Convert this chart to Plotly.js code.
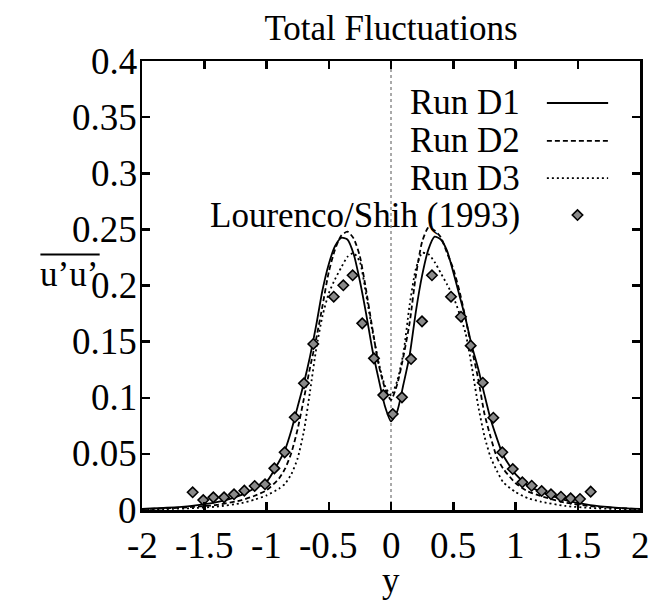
<!DOCTYPE html>
<html>
<head>
<meta charset="utf-8">
<script src="https://cdn.plot.ly/plotly-3.0.1.min.js"></script>
<style>html,body{margin:0;padding:0;background:#fff;}#chart{width:663px;height:600px;}</style>
</head>
<body>
<div id="chart"></div>
<script>
// ---- data ----
const xGrid = [-2,-1.8,-1.6,-1.4,-1.2,-1.1,-1,-0.9,-0.85,-0.8,-0.75,-0.7,-0.65,-0.6,-0.55,-0.5,-0.45,-0.4,-0.35,-0.3,-0.25,-0.2,-0.15,-0.1,-0.05,
  0,
  0.05,0.1,0.15,0.2,0.25,0.3,0.35,0.4,0.45,0.5,0.55,0.6,0.65,0.7,0.75,0.8,0.85,0.9,1,1.1,1.2,1.4,1.6,1.8,2];

const runD1 = [0.001,0.002,0.0037,0.007,0.0135,0.019,0.025,0.043,0.054,0.071,0.092,0.113,0.137,0.165,0.196,0.219,0.235,0.2425,0.241,0.228,0.204,0.175,0.143,0.117,0.093,
  0.079,
  0.088,0.112,0.138,0.177,0.209,0.232,0.2435,0.241,0.231,0.212,0.191,0.170,0.146,0.126,0.103,0.081,0.064,0.049,0.032,0.022,0.0163,0.0088,0.0044,0.0022,0.001];

const runD2 = [0.0008,0.0015,0.0027,0.0045,0.0088,0.0125,0.0176,0.028,0.037,0.051,0.072,0.099,0.127,0.153,0.182,0.212,0.232,0.2445,0.248,0.242,0.226,0.196,0.162,0.130,0.109,
  0.098,
  0.112,0.137,0.167,0.209,0.239,0.2515,0.249,0.243,0.229,0.215,0.195,0.170,0.143,0.117,0.086,0.065,0.047,0.037,0.024,0.0165,0.0125,0.0066,0.0035,0.0018,0.0009];

const runD3 = [0.0005,0.0009,0.0016,0.003,0.0062,0.0091,0.013,0.019,0.0235,0.032,0.046,0.07,0.106,0.144,0.173,0.193,0.2055,0.216,0.2255,0.229,0.221,0.192,0.160,0.132,0.111,
  0.102,
  0.115,0.140,0.183,0.215,0.229,0.228,0.221,0.211,0.201,0.190,0.175,0.157,0.127,0.093,0.066,0.047,0.035,0.025,0.016,0.0105,0.0075,0.0036,0.0018,0.0009,0.0005];

const expX = [-1.593,-1.508,-1.427,-1.341,-1.261,-1.178,-1.095,-1.012,-0.937,-0.854,-0.773,-0.699,-0.624,-0.460,-0.383,-0.308,-0.231,-0.137,-0.062,0.014,
  0.088,0.161,0.249,0.329,0.482,0.562,0.640,0.737,0.822,0.894,0.978,1.055,1.130,1.210,1.285,1.365,1.443,1.518,1.604];
const expY = [0.0158,0.0089,0.0113,0.0113,0.014,0.0172,0.0214,0.0229,0.0371,0.0514,0.0826,0.1129,0.1479,0.190,0.2002,0.2091,0.1663,0.1351,0.1024,0.0855,
  0.1004,0.1345,0.1681,0.2091,0.190,0.1722,0.1464,0.1134,0.0822,0.0514,0.0365,0.0247,0.0216,0.0169,0.014,0.0118,0.0104,0.0098,0.0163];

const seriesNames = ["Run D1","Run D2","Run D3","Lourenco/Shih (1993)"];
const xTickVals = [-2,-1.5,-1,-0.5,0,0.5,1,1.5,2];
const xTickText = ["-2","-1.5","-1","-0.5","0","0.5","1","1.5","2"];
const yTickVals = [0,0.05,0.1,0.15,0.2,0.25,0.3,0.35,0.4];
const yTickText = ["0","0.05","0.1","0.15","0.2","0.25","0.3","0.35","0.4"];

// ---- styling ----
const FONT = "'Liberation Serif', 'Times New Roman', serif";
const FS = 35;
const dashStyles = ["solid","5px,3px","2px,3px"];
const curves = [runD1, runD2, runD3];
const txtFont = {family: FONT, size: FS, color: "#000"};
const tickFont = {family: FONT, size: 37, color: "#000"};

const traces = curves.map((ys, i) => ({
  type: "scatter", mode: "lines", x: xGrid, y: ys, name: seriesNames[i],
  line: {color: "#000", width: 1.8, dash: dashStyles[i], shape: "spline", smoothing: 0.6},
  showlegend: false, hoverinfo: "skip"
}));
traces.push({
  type: "scatter", mode: "markers", x: expX, y: expY, name: seriesNames[3],
  marker: {symbol: "diamond", size: 8, color: "#8a8a8a", line: {color: "#000", width: 1.6}},
  showlegend: false, hoverinfo: "skip"
});
// legend key sample for the markers (on a hidden 0..1 overlay axis)
const legRowY = [0.9065, 0.822, 0.739, 0.657];
const legTextX = 0.764;
const legLineX0 = 0.813, legLineX1 = 0.936;
traces.push({
  type: "scatter", mode: "markers", x: [(legLineX0 + legLineX1) / 2], y: [legRowY[3]],
  xaxis: "x2", yaxis: "y2",
  marker: {symbol: "diamond", size: 8, color: "#8a8a8a", line: {color: "#000", width: 1.6}},
  showlegend: false, hoverinfo: "skip"
});

const annotations = seriesNames.map((n, i) => ({
  xref: "paper", yref: "paper", x: legTextX, y: legRowY[i], xanchor: "right", yanchor: "middle",
  text: n, showarrow: false, font: txtFont
}));
// tick labels (drawn as text at the axis' own tick values)
xTickVals.forEach((v, i) => annotations.push({
  xref: "x", yref: "paper", x: v, y: -0.078, xanchor: "center", yanchor: "middle",
  text: xTickText[i], showarrow: false, font: tickFont
}));
yTickVals.forEach((v, i) => annotations.push({
  xref: "paper", yref: "y", x: -0.007, y: v, xanchor: "right", yanchor: "middle",
  text: yTickText[i], showarrow: false, font: tickFont
}));
annotations.push({
  xref: "paper", yref: "paper", x: -0.1466, y: 0.524, xanchor: "center", yanchor: "middle",
  text: "u\u2019u\u2019", showarrow: false, font: txtFont
});
annotations.push({
  xref: "paper", yref: "paper", x: 0.5, y: -0.158, xanchor: "center", yanchor: "middle",
  text: "y", showarrow: false, font: txtFont
});

const shapes = [
  {type: "line", xref: "x", yref: "paper", x0: 0, x1: 0, y0: 0, y1: 1,
   line: {color: "#555", width: 1, dash: "dot"}, layer: "below"},
  {type: "line", xref: "paper", yref: "paper", x0: -0.204, x1: -0.085, y0: 0.569, y1: 0.569,
   line: {color: "#000", width: 1.8}}
];
[0,1,2].forEach(i => shapes.push({
  type: "line", xref: "paper", yref: "paper", x0: legLineX0, x1: legLineX1, y0: legRowY[i], y1: legRowY[i],
  line: {color: "#000", width: 1.8, dash: dashStyles[i]}
}));

const axisCommon = {
  showgrid: false, zeroline: false, showline: true, linecolor: "#000", linewidth: 2.5,
  mirror: "ticks", ticks: "inside", ticklen: 8, tickwidth: 2.5, tickcolor: "#000",
  showticklabels: false, fixedrange: true
};

const layout = {
  width: 663, height: 600,
  margin: {l: 142, r: 23, t: 61, b: 90},
  paper_bgcolor: "#fff", plot_bgcolor: "#fff",
  font: txtFont,
  title: {text: "Total Fluctuations", font: txtFont,
          xref: "paper", x: 0.5, xanchor: "center", yref: "container", y: 0.953, yanchor: "middle"},
  xaxis: Object.assign({}, axisCommon, {range: [-2, 2], tickvals: xTickVals}),
  yaxis: Object.assign({}, axisCommon, {range: [0, 0.4], tickvals: yTickVals}),
  xaxis2: {overlaying: "x", range: [0, 1], visible: false, fixedrange: true},
  yaxis2: {overlaying: "y", range: [0, 1], visible: false, fixedrange: true},
  annotations: annotations,
  shapes: shapes,
  showlegend: false
};

Plotly.newPlot("chart", traces, layout, {displayModeBar: false, staticPlot: true});
</script>
</body>
</html>
